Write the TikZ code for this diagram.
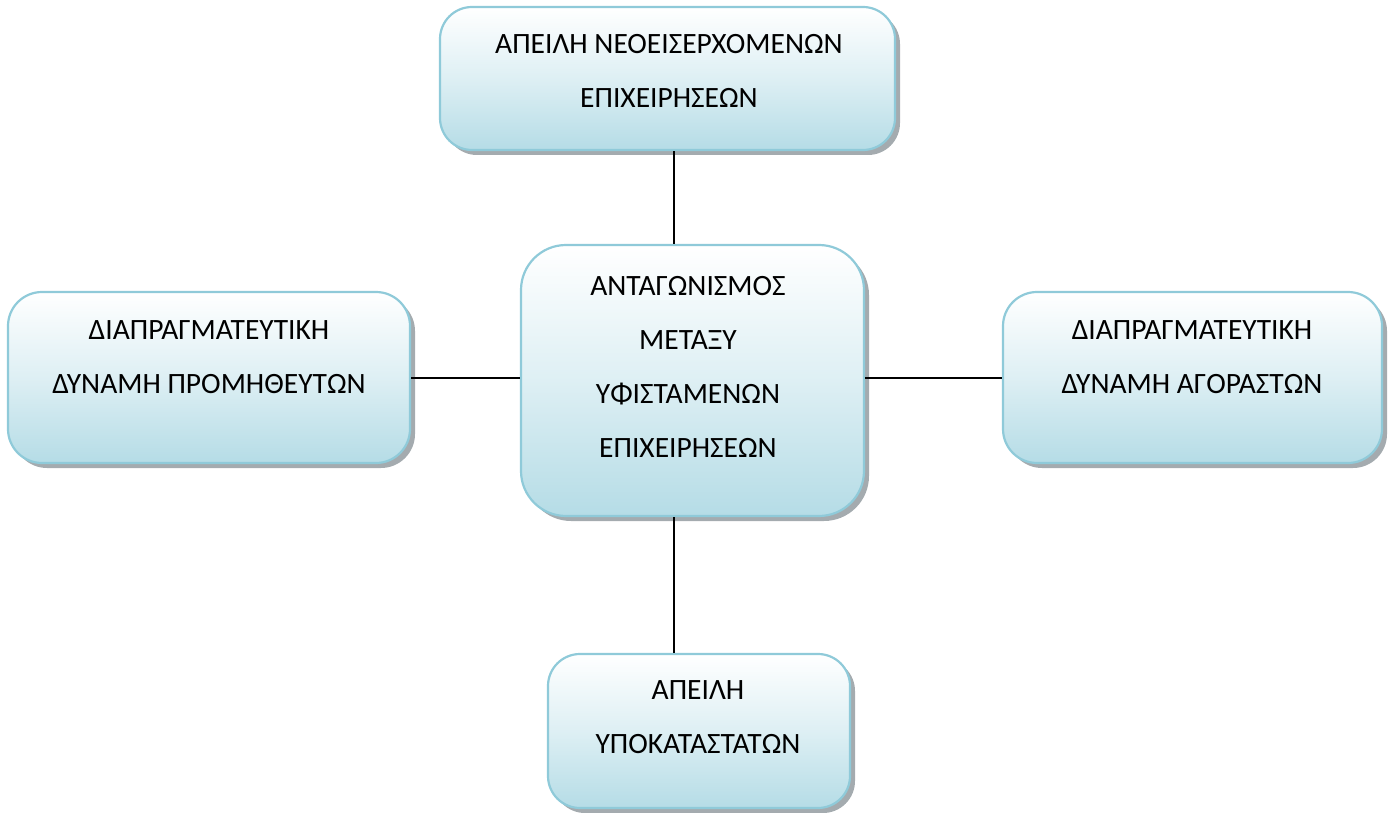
\documentclass[tikz,border=0pt]{standalone}
\usepackage{fontspec}
\setmainfont{Carlito}
\usetikzlibrary{shadows}
\definecolor{boxborder}{HTML}{8FCAD9}
\definecolor{boxbottom}{HTML}{B5DCE6}
\definecolor{boxtop}{HTML}{FFFFFF}
\definecolor{shadowgray}{HTML}{9AA2A6}
\tikzset{
  box/.style={draw=boxborder, line width=2.2pt, rounded corners=#1,
    top color=boxtop, bottom color=boxbottom, middle color=boxtop!55!boxbottom,
    drop shadow={shadow xshift=5pt, shadow yshift=-5pt, fill=shadowgray, opacity=0.9},
    inner sep=0pt},
  box/.default=30pt,
  txt/.style={align=center, font=\fontsize{29.5}{54}\selectfont, inner sep=0pt},
  link/.style={draw=black, line width=1.6pt}
}
\begin{document}
\begin{tikzpicture}[x=1pt,y=-1pt]
\useasboundingbox (0,0) rectangle (1389,813);
% boxes
\node[box=32pt, minimum width=455pt, minimum height=143pt] (top) at (667.5,78.5) {};
\node[box=34pt, minimum width=402pt, minimum height=171pt] (left) at (209,377.5) {};
\node[box=45pt, minimum width=343pt, minimum height=271pt] (mid) at (692.5,380.5) {};
\node[box=34pt, minimum width=379pt, minimum height=171pt] (right) at (1192.5,377.5) {};
\node[box=32pt, minimum width=302pt, minimum height=154pt] (bot) at (699,731) {};
% texts
\node[txt] (ttop) at (669,71) {ΑΠΕΙΛΗ ΝΕΟΕΙΣΕΡΧΟΜΕΝΩΝ\\ΕΠΙΧΕΙΡΗΣΕΩΝ};
\node[txt] (tleft) at (209,357) {ΔΙΑΠΡΑΓΜΑΤΕΥΤΙΚΗ\\ΔΥΝΑΜΗ ΠΡΟΜΗΘΕΥΤΩΝ};
\node[txt] (tmid) at (688,367) {ΑΝΤΑΓΩΝΙΣΜΟΣ\\ΜΕΤΑΞΥ\\ΥΦΙΣΤΑΜΕΝΩΝ\\ΕΠΙΧΕΙΡΗΣΕΩΝ};
\node[txt] (tright) at (1192,357) {ΔΙΑΠΡΑΓΜΑΤΕΥΤΙΚΗ\\ΔΥΝΑΜΗ ΑΓΟΡΑΣΤΩΝ};
\node[txt] (tbot) at (698,717) {ΑΠΕΙΛΗ\\ΥΠΟΚΑΤΑΣΤΑΤΩΝ};
% connectors
\coordinate (cx) at (674,0);
\coordinate (cy) at (0,378);
\draw[link] (top.south -| cx) -- (mid.north -| cx);
\draw[link] (mid.south -| cx) -- (bot.north -| cx);
\draw[link] (left.east |- cy) -- (mid.west |- cy);
\draw[link] (mid.east |- cy) -- (right.west |- cy);
\end{tikzpicture}
\end{document}
